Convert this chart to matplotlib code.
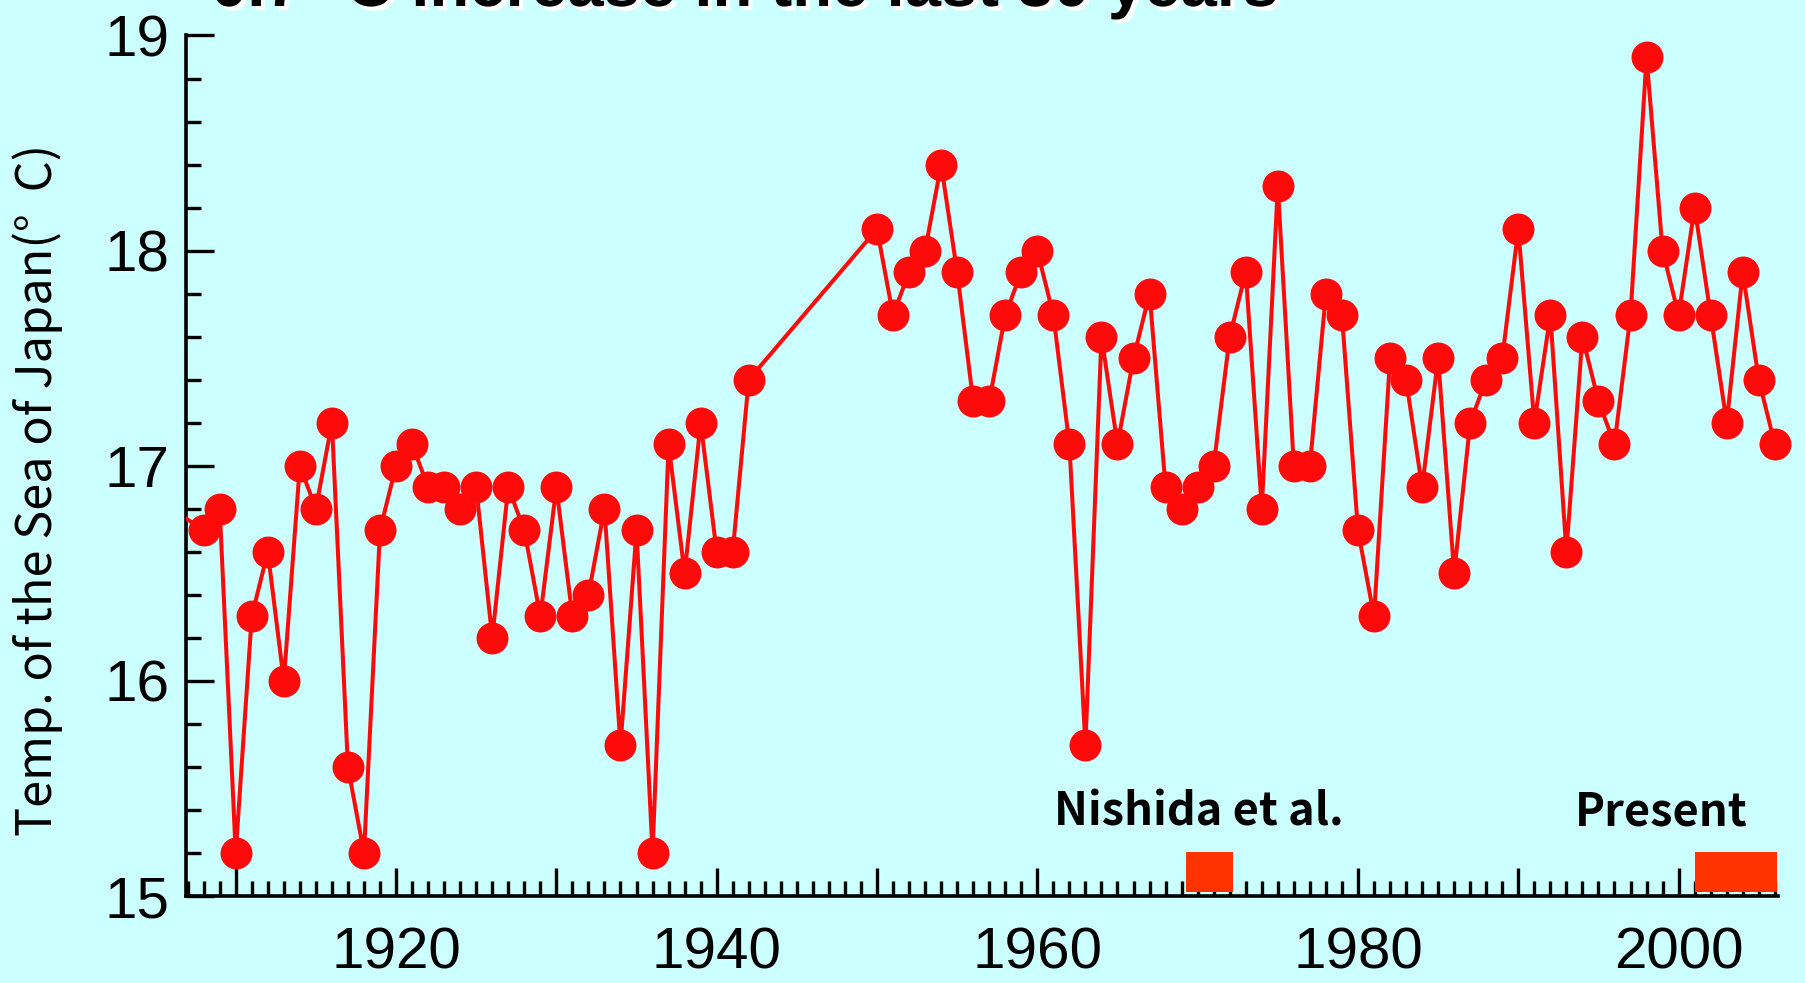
import numpy as np
import matplotlib
matplotlib.use("Agg")
import matplotlib.pyplot as plt
import matplotlib.patheffects as pe
from matplotlib.ticker import MultipleLocator, FuncFormatter

# annual mean temperature of the Sea of Japan (no data 1943-1949)
years = [1906, 1908, 1909, 1910, 1911, 1912, 1913, 1914, 1915, 1916, 1917, 1918, 1919,
         1920, 1921, 1922, 1923, 1924, 1925, 1926, 1927, 1928, 1929, 1930, 1931, 1932,
         1933, 1934, 1935, 1936, 1937, 1938, 1939, 1940, 1941, 1942,
         1950, 1951, 1952, 1953, 1954, 1955, 1956, 1957, 1958, 1959, 1960, 1961, 1962,
         1963, 1964, 1965, 1966, 1967, 1968, 1969, 1970, 1971, 1972, 1973, 1974, 1975,
         1976, 1977, 1978, 1979, 1980, 1981, 1982, 1983, 1984, 1985, 1986, 1987, 1988,
         1989, 1990, 1991, 1992, 1993, 1994, 1995, 1996, 1997, 1998, 1999, 2000, 2001,
         2002, 2003, 2004, 2005, 2006]
temps = [16.8, 16.7, 16.8, 15.2, 16.3, 16.6, 16.0, 17.0, 16.8, 17.2, 15.6, 15.2, 16.7,
         17.0, 17.1, 16.9, 16.9, 16.8, 16.9, 16.2, 16.9, 16.7, 16.3, 16.9, 16.3, 16.4,
         16.8, 15.7, 16.7, 15.2, 17.1, 16.5, 17.2, 16.6, 16.6, 17.4,
         18.1, 17.7, 17.9, 18.0, 18.4, 17.9, 17.3, 17.3, 17.7, 17.9, 18.0, 17.7, 17.1,
         15.7, 17.6, 17.1, 17.5, 17.8, 16.9, 16.8, 16.9, 17.0, 17.6, 17.9, 16.8, 18.3,
         17.0, 17.0, 17.8, 17.7, 16.7, 16.3, 17.5, 17.4, 16.9, 17.5, 16.5, 17.2, 17.4,
         17.5, 18.1, 17.2, 17.7, 16.6, 17.6, 17.3, 17.1, 17.7, 18.9, 18.0, 17.7, 18.2,
         17.7, 17.2, 17.9, 17.4, 17.1]

# observation periods marked on the axis
period_labels = ["Nishida et al.", "Present"]
period_start = [1969.3, 2001.0]
period_end = [1972.2, 2006.15]
label_x = [1970.1, 1998.9]

title_text = "0.7 °C increase in the last 30 years"
ylabel_text = "Temp. of the Sea of Japan(°  C)"

BG = "#ccffff"
RED = "#ff0a0a"
BAR = "#ff3300"

plt.rcParams["font.family"] = ["Liberation Sans", "DejaVu Sans"]

fig = plt.figure(figsize=(18.06, 9.83), dpi=100, facecolor=BG)
ax = fig.add_axes([0.103, 0.0885, 0.8815, 0.8754])
ax.set_facecolor(BG)

x0, x1 = 1906.9, 2006.2
ax.set_xlim(x0, x1)
ax.set_ylim(15, 19)

years = np.array(years)
temps = np.array(temps)
ax.plot(years, temps, "-", color=RED, lw=2.9, zorder=3)
vis = years >= x0
ax.plot(years[vis], temps[vis], "o", color=RED, ms=23, mec="none",
        clip_on=False, zorder=4)

for lab, s, e, lx in zip(period_labels, period_start, period_end, label_x):
    ax.add_patch(plt.Rectangle((s, 15.02), e - s, 0.186, color=BAR, lw=0,
                               zorder=5, clip_on=False))
    ax.text(lx, 15.33, lab, ha="center", va="baseline", fontsize=32.5,
            fontweight="bold", family=["Noto Sans CJK JP", "DejaVu Sans"], zorder=6)

for side in ["top", "right"]:
    ax.spines[side].set_visible(False)
for side in ["left", "bottom"]:
    ax.spines[side].set_linewidth(2.6)
    ax.spines[side].set_color("black")

ax.xaxis.set_major_locator(MultipleLocator(10))
ax.xaxis.set_minor_locator(MultipleLocator(1))
ax.xaxis.set_major_formatter(FuncFormatter(lambda v, p: "%d" % v if int(round(v)) % 20 == 0 else ""))
ax.yaxis.set_major_locator(MultipleLocator(1))
ax.yaxis.set_minor_locator(MultipleLocator(0.2))
ax.yaxis.set_major_formatter(FuncFormatter(lambda v, p: "%d" % v))

ax.tick_params(which="major", direction="in", length=20, width=2.4,
               labelsize=42, color="black")
ax.tick_params(which="minor", direction="in", length=10.5, width=2.4, color="black")
ax.tick_params(axis="x", which="major", pad=22)
ax.tick_params(axis="y", which="major", pad=12)

fig.text(38 / 1806, 1 - 490 / 983, ylabel_text, rotation=90, ha="center",
         va="center", fontsize=35, family=["Noto Sans CJK JP", "DejaVu Sans"])

fig.text(211 / 1806, 1 - 6 / 983, title_text, ha="left", va="baseline",
         fontsize=47, fontweight="bold",
         path_effects=[pe.withSimplePatchShadow(offset=(3, -3), shadow_rgbFace="white",
                                                alpha=1.0)])

fig.savefig("out.png", dpi=100, facecolor=BG)
